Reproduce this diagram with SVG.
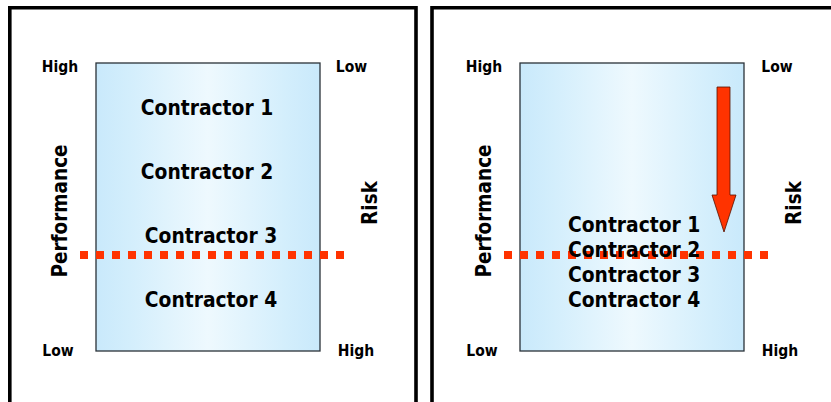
<svg xmlns="http://www.w3.org/2000/svg" width="831" height="402" viewBox="0 0 831 402">
<defs>
<linearGradient id="bg" x1="0" y1="0" x2="1" y2="0">
<stop offset="0" stop-color="#c9e9fb"/>
<stop offset="0.15" stop-color="#d3eefc"/>
<stop offset="0.5" stop-color="#eef9fe"/>
<stop offset="0.85" stop-color="#d3eefc"/>
<stop offset="1" stop-color="#c9e9fb"/>
</linearGradient>
<style>
.frame{fill:none;stroke:#000;stroke-width:3.6}
.box{fill:url(#bg);stroke:#2a3238;stroke-width:1.3}
text{font-family:"DejaVu Sans Condensed","DejaVu Sans","Liberation Sans",sans-serif;font-weight:bold;fill:#000}
.sm{font-size:15.5px;text-anchor:middle}
.ax{font-size:20.5px;text-anchor:middle}
.ct{font-size:20.8px}
.mid{text-anchor:middle}
.dot{stroke:#ff3300;stroke-width:8;stroke-dasharray:8 8;fill:none}
.arrow{fill:#ff3300;stroke:#551100;stroke-width:0.8}
</style>
</defs>
<rect width="831" height="402" fill="#fff"/>
<g id="panel-left">
<path class="frame" d="M9.8,402 V7.8 H416 V402"/>
<rect id="box-left" class="box" x="96" y="63" width="224" height="288"/>
</g>
<g id="panel-right">
<path class="frame" d="M432,402 V7.8 H831"/>
<rect id="box-right" class="box" x="520" y="63" width="224" height="288"/>
</g>
<g id="connectors">
<line class="dot" x1="80" y1="255" x2="344" y2="255"/>
<line class="dot" x1="504" y1="255" x2="768" y2="255"/>
<polygon class="arrow" points="717,87 730,87 730,195 736,195 724,232 712,195 717,195"/>
</g>
<g id="labels-left">
<text class="sm" x="60" y="72">High</text>
<text class="sm" x="351.5" y="72">Low</text>
<text class="sm" x="58" y="356">Low</text>
<text class="sm" x="356" y="356">High</text>
<text class="ax" transform="translate(67,211) rotate(-90)">Performance</text>
<text class="ax" transform="translate(377,203) rotate(-90)">Risk</text>
</g>
<g id="contractors-left">
<text class="ct mid" x="207" y="115">Contractor 1</text>
<text class="ct mid" x="207" y="179">Contractor 2</text>
<text class="ct mid" x="211" y="243">Contractor 3</text>
<text class="ct mid" x="211" y="307">Contractor 4</text>
</g>
<g id="labels-right">
<text class="sm" x="484" y="72">High</text>
<text class="sm" x="777" y="72">Low</text>
<text class="sm" x="482" y="356">Low</text>
<text class="sm" x="780" y="356">High</text>
<text class="ax" transform="translate(491,211) rotate(-90)">Performance</text>
<text class="ax" transform="translate(801,203) rotate(-90)">Risk</text>
</g>
<g id="contractors-right">
<text class="ct" x="568" y="232">Contractor 1</text>
<text class="ct" x="568" y="257">Contractor 2</text>
<text class="ct" x="568" y="282">Contractor 3</text>
<text class="ct" x="568" y="307">Contractor 4</text>
</g>
</svg>
